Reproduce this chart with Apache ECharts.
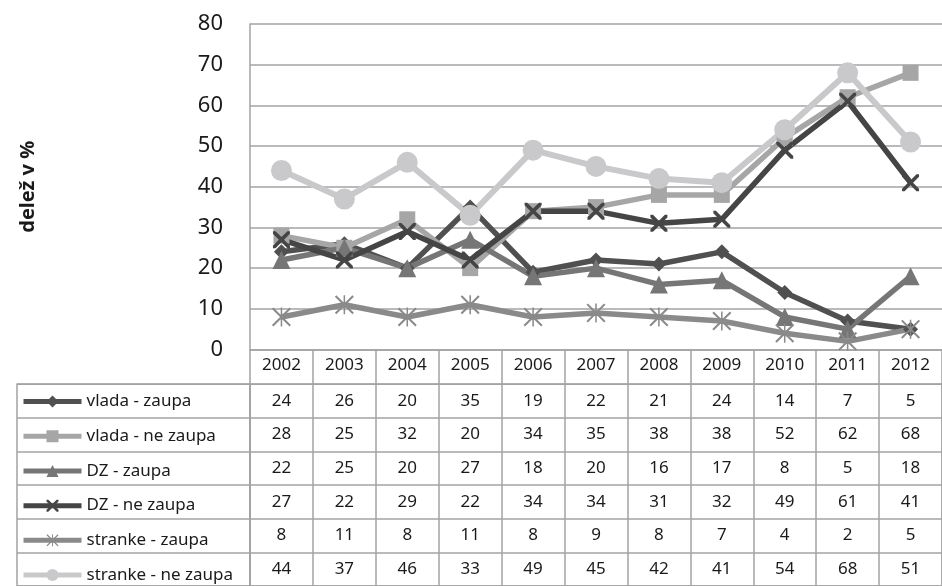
<!DOCTYPE html>
<html>
<head>
<meta charset="utf-8">
<script src="https://cdn.jsdelivr.net/npm/echarts@6/dist/echarts.min.js"></script>
<style>
  html, body { margin: 0; padding: 0; background: #fff; }
  #chart { width: 942px; height: 586px; }
</style>
</head>
<body>
<div id="chart"></div>
<script>
// Trust shares 2002-2012, line chart with Excel-style data table underneath.

const years = ['2002', '2003', '2004', '2005', '2006', '2007', '2008', '2009', '2010', '2011', '2012'];
const seriesNames = ['vlada - zaupa', 'vlada - ne zaupa', 'DZ - zaupa', 'DZ - ne zaupa', 'stranke - zaupa', 'stranke - ne zaupa'];

const vladaZaupa     = [24, 26, 20, 35, 19, 22, 21, 24, 14, 7, 5];
const vladaNeZaupa   = [28, 25, 32, 20, 34, 35, 38, 38, 52, 62, 68];
const dzZaupa        = [22, 25, 20, 27, 18, 20, 16, 17, 8, 5, 18];
const dzNeZaupa      = [27, 22, 29, 22, 34, 34, 31, 32, 49, 61, 41];
const strankeZaupa   = [8, 11, 8, 11, 8, 9, 8, 7, 4, 2, 5];
const strankeNeZaupa = [44, 37, 46, 33, 49, 45, 42, 41, 54, 68, 51];

const yTicks = { min: 0, max: 80, interval: 10 };
const yTitle = 'delež v %';

const allValues = [vladaZaupa, vladaNeZaupa, dzZaupa, dzNeZaupa, strankeZaupa, strankeNeZaupa];

// marker shapes
const crossPath = 'path://M0,0 L3,0 L10,7 L17,0 L20,0 L20,3 L13,10 L20,17 L20,20 L17,20 L10,13 L3,20 L0,20 L0,17 L7,10 L0,3 Z';
const starPath = 'path://M0,1.5 L1.5,0 L10,8.5 L18.5,0 L20,1.5 L11.5,10 L20,18.5 L18.5,20 L10,11.5 L1.5,20 L0,18.5 L8.5,10 Z M9.2,0 L10.8,0 L10.8,20 L9.2,20 Z';

const styles = [
  { color: '#505050', symbol: 'diamond',  size: 15, width: 5.5 },
  { color: '#a6a6a6', symbol: 'rect',     size: 16, width: 5.5 },
  { color: '#767676', symbol: 'triangle', size: 18, width: 5.5 },
  { color: '#454545', symbol: crossPath,  size: 17, width: 5.5 },
  { color: '#8a8a8a', symbol: starPath,   size: 19, width: 5.5 },
  { color: '#c9c9cc', symbol: 'circle',   size: 21, width: 6 },
];

const FONT = 'Noto Sans';
const GRID_LINE = '#a3a3a3';
const ROW_H = 34.7;
const PLOT_TOP = 24;
const PLOT_BOTTOM = 349.5;
const TABLE_TOP = PLOT_BOTTOM + ROW_H;

const lineSeries = seriesNames.map((name, i) => ({
  name: name,
  type: 'line',
  xAxisIndex: 0,
  yAxisIndex: 0,
  data: allValues[i],
  symbol: styles[i].symbol,
  symbolSize: styles[i].size,
  lineStyle: { color: styles[i].color, width: styles[i].width },
  itemStyle: { color: styles[i].color },
  emphasis: { disabled: true },
  animation: false,
  z: 3,
}));

const tableCells = [];
allValues.forEach((row, r) => {
  row.forEach((v, c) => tableCells.push([c, r, v]));
});

const option = {
  backgroundColor: '#fff',
  animation: false,
  textStyle: { fontFamily: FONT },
  grid: [
    { left: 250, right: -1, top: PLOT_TOP, height: PLOT_BOTTOM - PLOT_TOP, containLabel: false },
    { left: 250, right: -1, top: TABLE_TOP, height: ROW_H * 6, show: true, borderColor: GRID_LINE, borderWidth: 1.5 },
    { left: 17, width: 233, top: TABLE_TOP, height: ROW_H * 6, show: true, borderColor: GRID_LINE, borderWidth: 1.5 },
  ],
  xAxis: [
    {
      gridIndex: 0, type: 'category', data: years, boundaryGap: true,
      axisLine: { lineStyle: { color: GRID_LINE, width: 1.5 } },
      axisTick: { show: true, length: ROW_H, interval: 0, lineStyle: { color: GRID_LINE, width: 1.5 } },
      axisLabel: { interval: 0, margin: 7, fontSize: 17, color: '#1a1a1a', fontFamily: FONT },
      splitLine: { show: false },
    },
    {
      gridIndex: 1, type: 'category', data: years, boundaryGap: true,
      axisLine: { show: false }, axisTick: { show: false }, axisLabel: { show: false },
      splitLine: { show: true, interval: 0, lineStyle: { color: GRID_LINE, width: 1.5 } },
    },
    { gridIndex: 2, type: 'value', show: false },
  ],
  yAxis: [
    {
      gridIndex: 0, type: 'value', min: yTicks.min, max: yTicks.max, interval: yTicks.interval,
      name: yTitle, nameLocation: 'middle', nameGap: 212, nameRotate: 90,
      nameTextStyle: { fontSize: 20, fontWeight: 'bold', color: '#1a1a1a', fontFamily: FONT },
      axisLine: { show: true, lineStyle: { color: GRID_LINE, width: 1.5 } },
      axisTick: { show: false },
      axisLabel: { fontSize: 22, color: '#1a1a1a', margin: 27, fontFamily: FONT },
      splitLine: { show: true, lineStyle: { color: GRID_LINE, width: 1.5 } },
    },
    {
      gridIndex: 1, type: 'category', data: seriesNames, inverse: true,
      axisLine: { show: false }, axisTick: { show: false }, axisLabel: { show: false },
      splitLine: { show: true, interval: 0, lineStyle: { color: GRID_LINE, width: 1.5 } },
    },
    {
      gridIndex: 2, type: 'category', data: seriesNames, inverse: true,
      axisLine: { show: false }, axisTick: { show: false }, axisLabel: { show: false },
      splitLine: { show: true, interval: 0, lineStyle: { color: GRID_LINE, width: 1.5 } },
    },
  ],
  legend: {
    orient: 'vertical',
    left: 21,
    top: TABLE_TOP + (ROW_H - 20) / 2,
    itemWidth: 58,
    itemHeight: 15,
    itemGap: ROW_H - 20,
    padding: 0,
    selectedMode: false,
    data: seriesNames,
    lineStyle: { width: 5 },
    textStyle: { fontSize: 17, lineHeight: 20, color: '#1a1a1a', fontFamily: FONT },
  },
  series: lineSeries.concat([{
    name: 'table',
    type: 'heatmap',
    xAxisIndex: 1,
    yAxisIndex: 1,
    data: tableCells,
    itemStyle: { color: 'rgba(0,0,0,0)' },
    label: {
      show: true, fontSize: 17, color: '#1a1a1a', fontFamily: FONT,
      formatter: (p) => String(p.value[2]),
    },
    emphasis: { disabled: true },
    animation: false,
  }]),
};

const chart = echarts.init(document.getElementById('chart'), null, { renderer: 'canvas' });
chart.setOption(option);
</script>
</body>
</html>
